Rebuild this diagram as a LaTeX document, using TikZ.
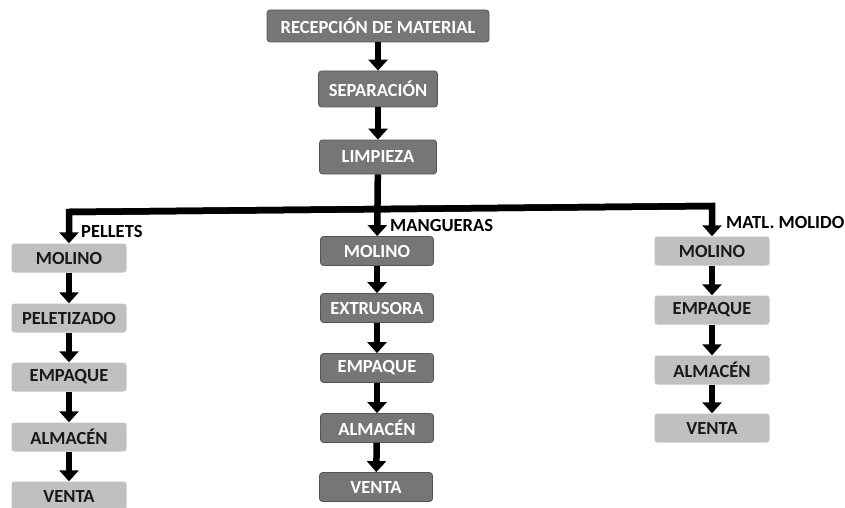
\documentclass[tikz,border=0pt]{standalone}
\usepackage{fontspec}
\setmainfont{Carlito}
\usetikzlibrary{arrows.meta}

\definecolor{boxdark}{RGB}{118,118,118}
\definecolor{boxedge}{RGB}{85,85,85}
\definecolor{boxlight}{RGB}{192,192,192}

\tikzset{
  darkbox/.style={draw=boxedge, line width=0.8pt, fill=boxdark, text=white,
    rounded corners=3pt, minimum width=113pt, minimum height=29pt,
    inner sep=0pt, font=\bfseries\fontsize{18.5}{18.5}\selectfont},
  lightbox/.style={fill=boxlight, text=black!90, rounded corners=3pt,
    minimum width=115pt, minimum height=29pt, inner sep=0pt,
    font=\bfseries\fontsize{18.5}{18.5}\selectfont},
  flow/.style={line width=6.5pt, line join=miter,
    -{Triangle[width=19pt,length=11pt]}},
  tag/.style={anchor=west, inner sep=0pt,
    font=\bfseries\fontsize{18.5}{18.5}\selectfont}
}

\begin{document}
\begin{tikzpicture}[x=1pt, y=-1pt]
\useasboundingbox (0,0) rectangle (845,508);

% tronco comun
\node[darkbox, minimum width=222pt, minimum height=32pt] (rec) at (378,26) {RECEPCIÓN DE MATERIAL};
\node[darkbox, minimum width=119pt, minimum height=36pt] (sep) at (378,89) {SEPARACIÓN};
\node[darkbox, minimum width=117pt, minimum height=34pt] (lim) at (378,157) {LIMPIEZA};

% pellets
\node[lightbox] (p1) at (69,258) {MOLINO};
\node[lightbox] (p2) at (69,318) {PELETIZADO};
\node[lightbox] (p3) at (69,377) {EMPAQUE};
\node[lightbox] (p4) at (69,437) {ALMACÉN};
\node[lightbox] (p5) at (69,496) {VENTA};

% mangueras
\node[darkbox] (m1) at (377,251) {MOLINO};
\node[darkbox] (m2) at (377,308) {EXTRUSORA};
\node[darkbox] (m3) at (377,368) {EMPAQUE};
\node[darkbox] (m4) at (377,428) {ALMACÉN};
\node[darkbox] (m5) at (376,487) {VENTA};

% material molido
\node[lightbox] (g1) at (712,251) {MOLINO};
\node[lightbox] (g2) at (712,310) {EMPAQUE};
\node[lightbox] (g3) at (712,370) {ALMACÉN};
\node[lightbox] (g4) at (712,428) {VENTA};

\node[tag] (tp) at (81,231) {PELLETS};
\node[tag] (tm) at (390,226) {MANGUERAS};
\node[tag] (tg) at (726,222) {MATL. MOLIDO};

\coordinate (bl) at (69,212);
\coordinate (br) at (712,206);

\draw[flow] (rec) -- (sep);
\draw[flow] (sep) -- (lim);
\draw[flow] (lim) -- (m1);
\draw[flow] (br) -- (bl) -- (p1);
\draw[flow] (bl) -- (br) -- (g1);

\foreach \a/\b in {p1/p2,p2/p3,p3/p4,p4/p5,m1/m2,m2/m3,m3/m4,m4/m5,g1/g2,g2/g3,g3/g4}
  \draw[flow] (\a) -- (\b);
\end{tikzpicture}
\end{document}
